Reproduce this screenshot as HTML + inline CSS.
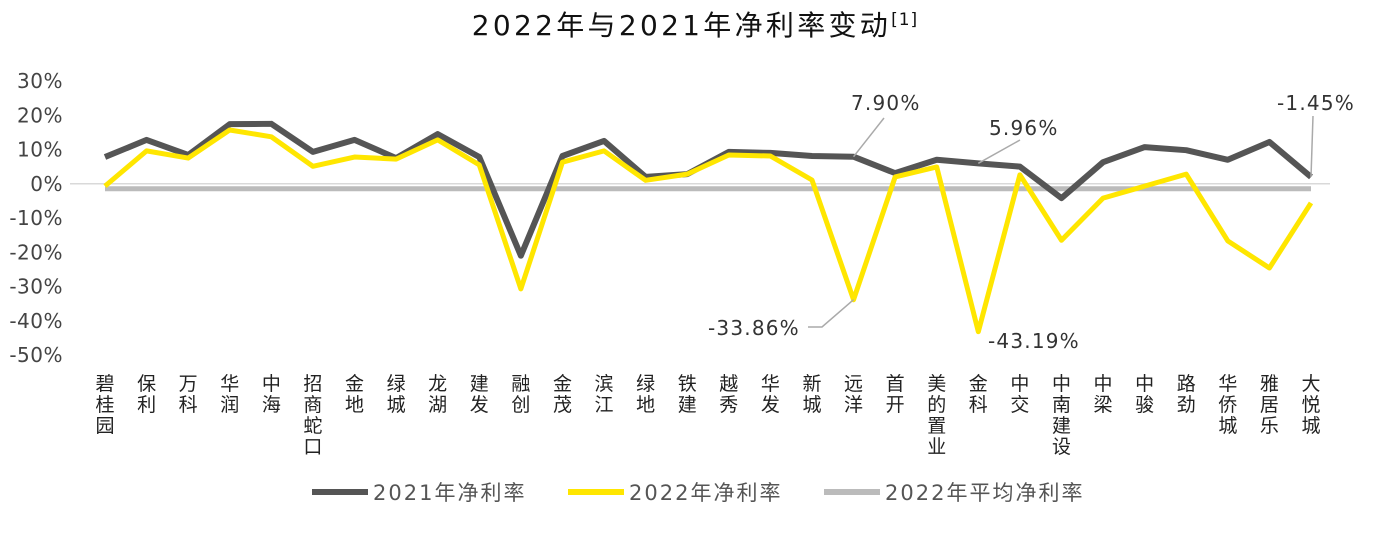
<!DOCTYPE html>
<html><head><meta charset="utf-8">
<style>
body{margin:0;background:#fff;}
svg text{font-family:"DejaVu Sans","Noto Sans CJK SC",sans-serif;}
</style></head>
<body>
<svg id="chart" width="1391" height="528" xmlns="http://www.w3.org/2000/svg">
<text x="695" y="35" text-anchor="middle" font-size="28" letter-spacing="3.3" fill="#111">2022年与2021年净利率变动<tspan font-size="17" dy="-10" letter-spacing="1">[1]</tspan></text>
<g id="yaxis"></g>
<g id="xaxis"></g>
<g id="series"></g>
<g id="ann"></g>
<g>
<g><line x1="312" y1="492" x2="368" y2="492" stroke="#555" stroke-width="6"/><text x="373" y="500" font-size="21" letter-spacing="2" fill="#555">2021年净利率</text></g>
<g><line x1="568" y1="492" x2="624" y2="492" stroke="#ffe600" stroke-width="6"/><text x="629" y="500" font-size="21" letter-spacing="2" fill="#555">2022年净利率</text></g>
<g><line x1="824" y1="492" x2="880" y2="492" stroke="#bbb" stroke-width="6"/><text x="885" y="500" font-size="21" letter-spacing="2" fill="#555">2022年平均净利率</text></g>
</g>
</svg>
<script>
const categories=["碧桂园","保利","万科","华润","中海","招商蛇口","金地","绿城","龙湖","建发","融创","金茂","滨江","绿地","铁建","越秀","华发","新城","远洋","首开","美的置业","金科","中交","中南建设","中梁","中骏","路劲","华侨城","雅居乐","大悦城"];
const v2021=[7.8,12.8,8.4,17.4,17.5,9.3,12.8,7.5,14.5,7.8,-21,8.1,12.5,2,2.8,9.3,9,8.1,7.9,3.1,7,5.96,5,-4.2,6.3,10.7,9.8,7,12.2,2];
const v2022=[-0.7,9.6,7.5,15.7,13.7,5.1,7.8,7.2,12.8,5.5,-30.7,6.3,9.6,1,2.8,8.4,8.1,1.1,-33.86,2,4.9,-43.19,2.6,-16.5,-4.2,-0.7,2.8,-16.7,-24.6,-5.6];
const avg2022=-1.45;
const yTicks=[30,20,10,0,-10,-20,-30,-40,-50];
const NS="http://www.w3.org/2000/svg";
const x=i=>105+i*(1311-105)/(categories.length-1);
const y=v=>183.75-v*3.425;
function mk(t,a,p){const e=document.createElementNS(NS,t);for(const k in a)e.setAttribute(k,a[k]);p.appendChild(e);return e;}
const ya=document.getElementById('yaxis');
yTicks.forEach(t=>{const e=mk('text',{x:63,y:y(t)+7,'text-anchor':'end','font-size':20,'letter-spacing':0.5,fill:'#444'},ya);e.textContent=t+'%';

});
const xa=document.getElementById('xaxis');
categories.forEach((c,i)=>{[...c].forEach((ch,j)=>{const e=mk('text',{x:x(i),y:390+j*21,'text-anchor':'middle','font-size':19,fill:'#222'},xa);e.textContent=ch;

});});
const s=document.getElementById('series');
const zl=mk('line',{x1:70,x2:1330,y1:y(0),y2:y(0),stroke:'#d9d9d9','stroke-width':1.5},s);


const al=mk('line',{x1:x(0),x2:x(categories.length-1),y1:y(avg2022),y2:y(avg2022),stroke:'#bbb','stroke-width':5},s);


const l1=mk('polyline',{points:v2021.map((v,i)=>x(i)+','+y(v)).join(' '),fill:'none',stroke:'#555','stroke-width':6,'stroke-linejoin':'round'},s);


const l2=mk('polyline',{points:v2022.map((v,i)=>x(i)+','+y(v)).join(' '),fill:'none',stroke:'#ffe600','stroke-width':5,'stroke-linejoin':'round'},s);


const an=document.getElementById('ann');
function ann(txt,tx,ty,pts,anchor){const p=mk('polyline',{points:pts,fill:'none',stroke:'#aaa','stroke-width':1.5},an);


const t=mk('text',{x:tx,y:ty,'font-size':20,'letter-spacing':1.2,fill:'#333','text-anchor':anchor||'start'},an);t.textContent=txt;

}
ann('7.90%',851,110,`884,118 ${x(18)},${y(v2021[18])}`);
ann('5.96%',989,135,`1020,140 ${x(21)},${y(v2021[21])}`);
ann('-1.45%',1277,110,`1313,116 ${x(29)},${y(v2021[29])}`);
ann('-33.86%',708,335,`808,327 822,327 ${x(18)},${y(v2022[18])}`);
ann('-43.19%',988,348,`${x(21)},${y(v2022[21])} ${x(21)},${y(v2022[21])}`);
</script>
</body></html>
